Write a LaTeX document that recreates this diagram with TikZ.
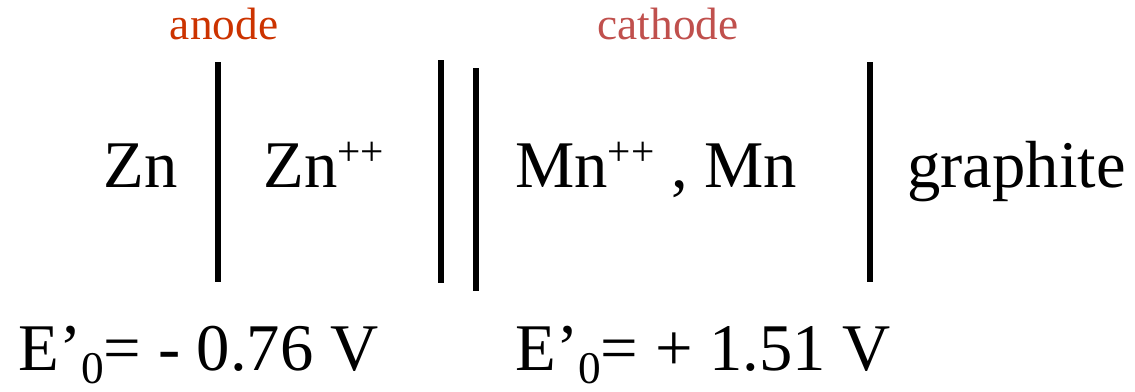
\documentclass[tikz,border=0pt]{standalone}
\usepackage{fontspec}
\setmainfont{Liberation Serif}
\newfontfamily\timesfont{Liberation Serif}
\usetikzlibrary{positioning}
\definecolor{anodeRed}{HTML}{CC3300}
\definecolor{cathodeRed}{HTML}{C0504D}
\newcommand{\ionpp}{\raisebox{17pt}{\fontsize{31}{31}\timesfont ++}}
\newcommand{\potsub}{\raisebox{-10pt}{\fontsize{34}{34}\timesfont 0}}

\begin{document}
\begin{tikzpicture}[x=0.75pt, y=-0.75pt,
    species/.style={anchor=base west, inner sep=0pt, font=\fontsize{50}{60}\timesfont},
    electrode/.style={anchor=base, inner sep=0pt, font=\fontsize{34}{40}\timesfont},
    bar/.style={fill=black},
  ]
    \useasboundingbox (0,0) rectangle (1135,392);

    % phase boundaries and salt bridge
    \fill[bar] (215,62) rectangle (221,282);
    \fill[bar] (438,60) rectangle (444,283);
    \fill[bar] (473,68) rectangle (479,291);
    \fill[bar] (867,62) rectangle (873,282);

    \node[electrode, text=anodeRed]   (anode)   at (224,40) {anode};
    \node[electrode, text=cathodeRed] (cathode) at (668,40) {cathode};

    \node[species] (zn)   at (103,188) {Zn};
    \node[species] (znpp) at (263,188) {Zn\ionpp};
    \node[species] (mn)   at (515,188) {Mn\ionpp\ , Mn};
    \node[species] (grph) at (907,188) {graphite};

    \node[species] (eanode)   at (18,370)  {E\textquoteright\potsub= - 0.76 V};
    \node[species] (ecathode) at (515,370) {E\textquoteright\potsub= + 1.51 V};
  \end{tikzpicture}
\end{document}
